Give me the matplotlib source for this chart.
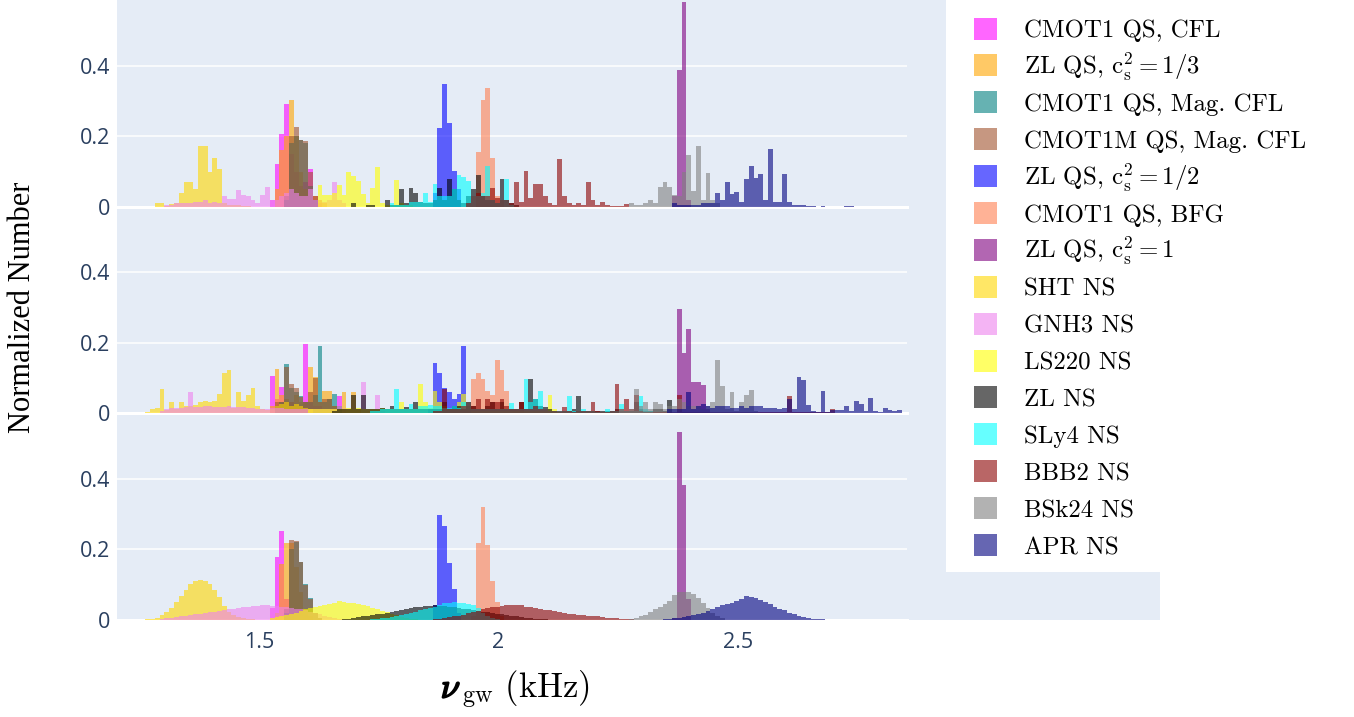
import numpy as np
import matplotlib
matplotlib.use("Agg")
import matplotlib.pyplot as plt
from matplotlib.patches import Rectangle
import matplotlib.patheffects as pe

plt.rcParams["mathtext.fontset"] = "cm"
plt.rcParams["font.family"] = ["Open Sans", "DejaVu Sans"]

W, H = 1354, 717
BIN0 = 1.2025   # left edge of bin 0 (kHz)
BIN_W = 0.01

labels = [
    "CMOT1 QS, CFL",
    r"ZL QS, $\mathrm{c_s^2} = 1/3$",
    "CMOT1 QS, Mag. CFL",
    "CMOT1M QS, Mag. CFL",
    r"ZL QS, $\mathrm{c_s^2} = 1/2$",
    "CMOT1 QS, BFG",
    r"ZL QS, $\mathrm{c_s^2} = 1$",
    "SHT NS", "GNH3 NS", "LS220 NS", "ZL NS", "SLy4 NS",
    "BBB2 NS", "BSk24 NS", "APR NS",
]
colors = ["magenta", "orange", "teal", "sienna", "blue", "coral", "purple",
          "gold", "violet", "yellow", "black", "cyan", "darkred", "grey", "navy"]

# ---- top panel: first bin index of every trace, then bin heights ----
top_first = [32, 33, 35, 35, 66, 75, 116, 8, 10, 42, 49, 57, 73, 107, 116]
top_cmot1_cfl = [0.02, 0.122, 0.207, 0.291, 0.15, 0.10, 0.06, 0.07, 0.107, 0.03, 0.01]
top_zl_13 = [0.05, 0.16, 0.20, 0.303, 0.20, 0.10, 0.05, 0.04, 0.03, 0.02, 0.01]
top_cmot1_mag = [0.02, 0.18, 0.20, 0.19, 0.18, 0.06, 0.02]
top_cmot1m_mag = [0.03, 0.20, 0.226, 0.19, 0.188, 0.10, 0.03]
top_zl_12 = [0.04, 0.225, 0.348, 0.237, 0.103, 0.05]
top_cmot1_bfg = [0.156, 0.303, 0.338, 0.139, 0.03, 0.02]
top_zl_1 = [0.03, 0.389, 0.579, 0.02]
top_sht = [0.012, 0.012, 0.003, 0.008, 0.010, 0.040, 0.071, 0.071, 0.050, 0.174,
           0.174, 0.099, 0.139, 0.107, 0.010, 0.005, 0.005, 0.005, 0.003, 0.003]
top_gnh3 = [0.005, 0.005, 0.010, 0.010, 0.012, 0.010, 0.015, 0.015, 0.020, 0.010,
            0.015, 0.012, 0.031, 0.023, 0.023, 0.048, 0.034, 0.030, 0.020, 0.010,
            0.034, 0.056, 0.020, 0.020, 0.030, 0.040, 0.050, 0.040, 0.030, 0.030,
            0.050, 0.020, 0.020, 0.015, 0.020, 0.071, 0.020, 0.010]
top_ls220 = [0.062, 0.033, 0.033, 0.040, 0.062, 0.033, 0.100, 0.088, 0.075, 0.037,
             0.010, 0.054, 0.113, 0.010, 0.005, 0.005, 0.077, 0.010, 0.005, 0.005]
top_zl_ns = [0.010, 0.0, 0.0, 0.005, 0.005, 0.0, 0.0, 0.020, 0.005, 0.005,
             0.050, 0.010, 0.054, 0.040, 0.015, 0.010, 0.010, 0.020, 0.055, 0.020,
             0.080, 0.050, 0.020, 0.010, 0.030, 0.050, 0.090, 0.030, 0.020, 0.020,
             0.010, 0.078, 0.020, 0.010, 0.005]
top_sly4 = [0.010, 0.005, 0.005, 0.005, 0.015, 0.015, 0.015, 0.040, 0.015, 0.064,
            0.030, 0.030, 0.030, 0.050, 0.090, 0.084, 0.074, 0.030, 0.030, 0.040,
            0.116, 0.020, 0.010, 0.020, 0.079, 0.005]
top_bbb2 = [0.010, 0.030, 0.040, 0.030, 0.030, 0.054, 0.025, 0.020, 0.020, 0.010,
            0.071, 0.015, 0.102, 0.025, 0.066, 0.066, 0.030, 0.010, 0.005, 0.135,
            0.030, 0.010, 0.005, 0.010, 0.005, 0.071, 0.020, 0.005, 0.015, 0.005,
            0.003, 0.003, 0.003, 0.008]
top_bsk24 = [0.010, 0.005, 0.005, 0.010, 0.020, 0.010, 0.058, 0.070, 0.058, 0.033,
             0.030, 0.100, 0.147, 0.045, 0.174, 0.020, 0.096, 0.020, 0.010]
top_apr = [0.010, 0.005, 0.005, 0.005, 0.005, 0.005, 0.010, 0.010, 0.010, 0.040,
           0.020, 0.071, 0.037, 0.043, 0.015, 0.079, 0.115, 0.082, 0.093, 0.020,
           0.163, 0.015, 0.013, 0.094, 0.015, 0.006, 0.006, 0.006, 0.003, 0.003,
           0.0, 0.003, 0.0, 0.0, 0.0, 0.0, 0.003, 0.003]

# ---- middle panel ----
mid_first = [32, 32, 33, 33, 65, 74, 117, 6, 9, 40, 45, 53, 66, 105, 115]
mid_cmot1_cfl = [0.105, 0.040, 0.074, 0.030, 0.030, 0.020, 0.020, 0.195, 0.030, 0.020,
                 0.020, 0.010, 0.010, 0.010, 0.047, 0.010]
mid_zl_13 = [0.020, 0.125, 0.050, 0.040, 0.030, 0.050, 0.030, 0.030, 0.130, 0.102,
             0.030, 0.064, 0.064, 0.020, 0.020, 0.059, 0.010, 0.060, 0.010]
mid_cmot1_mag = [0.020, 0.030, 0.139, 0.070, 0.060, 0.047, 0.030, 0.030, 0.050, 0.191,
                 0.030, 0.040, 0.055, 0.020]
mid_cmot1m_mag = [0.030, 0.030, 0.132, 0.083, 0.072, 0.045, 0.030, 0.060, 0.100, 0.030,
                  0.040, 0.040, 0.020, 0.010]
mid_zl_12 = [0.010, 0.142, 0.113, 0.072, 0.061, 0.041, 0.055, 0.192, 0.020]
mid_cmot1_bfg = [0.097, 0.115, 0.096, 0.064, 0.051, 0.151, 0.123, 0.064, 0.010, 0.010, 0.030]
mid_zl_1 = [0.297, 0.170, 0.238, 0.087, 0.087, 0.080, 0.010]
mid_sht = [0.003, 0.010, 0.015, 0.068, 0.008, 0.032, 0.011, 0.032, 0.019, 0.020,
           0.024, 0.031, 0.035, 0.031, 0.033, 0.055, 0.113, 0.123, 0.015, 0.059,
           0.033, 0.052, 0.070, 0.021, 0.011, 0.008, 0.010, 0.020, 0.025, 0.030,
           0.020, 0.025, 0.020, 0.015, 0.010]
mid_gnh3 = [0.005, 0.010, 0.015, 0.015, 0.015, 0.017, 0.061, 0.017, 0.017, 0.020,
            0.020, 0.017, 0.017, 0.017, 0.020, 0.017, 0.017, 0.017, 0.015, 0.015,
            0.012, 0.010, 0.010, 0.015, 0.015, 0.015, 0.010, 0.010, 0.010, 0.010,
            0.010, 0.010, 0.010, 0.010, 0.010, 0.010, 0.010, 0.020, 0.010, 0.010,
            0.010, 0.010, 0.087, 0.010, 0.010, 0.052, 0.005]
mid_ls220 = [0.010, 0.010, 0.010, 0.010, 0.010, 0.010, 0.010, 0.010, 0.015, 0.010,
             0.015, 0.010, 0.010, 0.010, 0.010, 0.015, 0.010, 0.010, 0.010, 0.031,
             0.010, 0.010, 0.010, 0.083, 0.031, 0.015, 0.064, 0.030, 0.020, 0.010,
             0.010, 0.030, 0.055, 0.020, 0.005, 0.005, 0.005, 0.005, 0.005, 0.005,
             0.005, 0.005, 0.005, 0.005, 0.005, 0.005, 0.005, 0.005, 0.005, 0.005,
             0.052, 0.010]
mid_zl_ns = [0.005, 0.010, 0.010, 0.010, 0.052, 0.010, 0.050, 0.010, 0.010, 0.010,
             0.015, 0.010, 0.020, 0.010, 0.010, 0.017, 0.010, 0.032, 0.010, 0.010,
             0.010, 0.010, 0.010, 0.030, 0.010, 0.020, 0.020, 0.010, 0.030, 0.020,
             0.010, 0.010, 0.020, 0.030, 0.010, 0.030, 0.010, 0.010, 0.010, 0.030,
             0.010, 0.097, 0.040, 0.020, 0.017, 0.010, 0.005, 0.005, 0.005, 0.005,
             0.010, 0.049, 0.005, 0.005, 0.005, 0.005, 0.005, 0.005, 0.005, 0.010,
             0.005, 0.005, 0.005, 0.030, 0.010, 0.005, 0.005, 0.010, 0.010, 0.005,
             0.038]
mid_sly4 = [0.005, 0.005, 0.010, 0.012, 0.012, 0.068, 0.012, 0.012, 0.026, 0.012,
            0.020, 0.020, 0.024, 0.020, 0.020, 0.015, 0.015, 0.020, 0.015, 0.030,
            0.030, 0.010, 0.010, 0.010, 0.010, 0.010, 0.010, 0.010, 0.010, 0.028,
            0.010, 0.010, 0.097, 0.030, 0.040, 0.064, 0.010, 0.005, 0.005, 0.003,
            0.005, 0.049, 0.005, 0.005, 0.010, 0.005, 0.005, 0.003, 0.003, 0.012,
            0.005, 0.005, 0.026, 0.005, 0.005, 0.005, 0.049, 0.010, 0.005]
mid_bbb2 = [0.005, 0.005, 0.068, 0.010, 0.010, 0.010, 0.020, 0.030, 0.020, 0.040,
            0.010, 0.040, 0.030, 0.030, 0.040, 0.020, 0.010, 0.010, 0.030, 0.010,
            0.010, 0.020, 0.010, 0.010, 0.005, 0.005, 0.003, 0.017, 0.005, 0.003,
            0.005, 0.005, 0.005, 0.032, 0.005, 0.003, 0.003, 0.005, 0.082, 0.010,
            0.039, 0.010, 0.050, 0.005, 0.003, 0.003, 0.003, 0.003, 0.003, 0.003,
            0.003, 0.050, 0.003, 0.003, 0.003, 0.003, 0.003, 0.003, 0.003, 0.003,
            0.003, 0.003, 0.003, 0.003, 0.003, 0.003, 0.003, 0.003, 0.003, 0.003,
            0.003, 0.003, 0.003, 0.003, 0.049, 0.002, 0.002, 0.002, 0.002, 0.002,
            0.002, 0.002, 0.002, 0.010]
mid_bsk24 = [0.010, 0.005, 0.010, 0.068, 0.020, 0.032, 0.010, 0.032, 0.025, 0.010,
             0.020, 0.020, 0.040, 0.030, 0.020, 0.020, 0.020, 0.010, 0.020, 0.031,
             0.152, 0.078, 0.010, 0.059, 0.005, 0.032, 0.051, 0.066, 0.005]
mid_apr = [0.010, 0.010, 0.010, 0.010, 0.060, 0.010, 0.020, 0.025, 0.020, 0.015,
           0.020, 0.020, 0.020, 0.015, 0.013, 0.020, 0.015, 0.020, 0.020, 0.020,
           0.015, 0.015, 0.015, 0.010, 0.015, 0.040, 0.010, 0.102, 0.093, 0.023,
           0.005, 0.003, 0.064, 0.003, 0.008, 0.008, 0.008, 0.020, 0.005, 0.033,
           0.026, 0.005, 0.043, 0.005, 0.002, 0.015, 0.008, 0.006, 0.008]

# ---- bottom panel ----
bot_first = [32, 33, 35, 35, 66, 74, 116, 5, 9, 32, 47, 53, 66, 107, 114]
bot_cmot1_cfl = [0.035, 0.177, 0.252, 0.060, 0.010]
bot_zl_13 = [0.020, 0.158, 0.217, 0.219, 0.150, 0.080, 0.030, 0.010]
bot_cmot1_mag = [0.020, 0.200, 0.220, 0.165, 0.101, 0.063, 0.020, 0.005]
bot_cmot1m_mag = [0.030, 0.226, 0.224, 0.163, 0.100, 0.060, 0.020, 0.005]
bot_zl_12 = [0.042, 0.297, 0.266, 0.160, 0.089, 0.020]
bot_cmot1_bfg = [0.010, 0.217, 0.320, 0.213, 0.109, 0.051, 0.010]
bot_zl_1 = [0.005, 0.533, 0.383, 0.060]
bot_sht = [0.001, 0.002, 0.003, 0.007, 0.013, 0.024, 0.035, 0.051, 0.068, 0.084,
           0.101, 0.111, 0.113, 0.111, 0.103, 0.084, 0.066, 0.040, 0.024, 0.014,
           0.009, 0.005, 0.003, 0.002]
bot_gnh3 = [0.004, 0.006, 0.007, 0.009, 0.011, 0.012, 0.014, 0.016, 0.018, 0.020,
            0.022, 0.024, 0.026, 0.028, 0.030, 0.032, 0.034, 0.037, 0.038, 0.040,
            0.041, 0.042, 0.042, 0.041, 0.040, 0.038, 0.036, 0.034, 0.032, 0.030,
            0.027, 0.024, 0.020, 0.016, 0.012, 0.008, 0.005, 0.003]
bot_ls220 = [0.005, 0.008, 0.010, 0.013, 0.016, 0.020, 0.025, 0.030, 0.034, 0.037,
             0.040, 0.043, 0.046, 0.048, 0.054, 0.052, 0.048, 0.048, 0.046, 0.042,
             0.040, 0.035, 0.031, 0.026, 0.022, 0.017, 0.013, 0.009, 0.006, 0.004,
             0.002]
bot_zl_ns = [0.002, 0.004, 0.006, 0.008, 0.010, 0.012, 0.014, 0.016, 0.018, 0.020,
             0.022, 0.025, 0.028, 0.031, 0.034, 0.036, 0.038, 0.040, 0.041, 0.042,
             0.041, 0.040, 0.038, 0.036, 0.034, 0.032, 0.030, 0.028, 0.026, 0.024,
             0.022, 0.020, 0.018, 0.016, 0.014, 0.012, 0.010, 0.008, 0.006, 0.005,
             0.004, 0.003, 0.002]
bot_sly4 = [0.002, 0.003, 0.005, 0.007, 0.009, 0.011, 0.014, 0.017, 0.021, 0.024,
            0.027, 0.030, 0.034, 0.038, 0.043, 0.047, 0.049, 0.050, 0.049, 0.047,
            0.046, 0.043, 0.035, 0.020, 0.010, 0.005, 0.002]
bot_bbb2 = [0.002, 0.004, 0.006, 0.008, 0.010, 0.012, 0.015, 0.019, 0.023, 0.026,
            0.030, 0.033, 0.036, 0.038, 0.040, 0.042, 0.043, 0.043, 0.042, 0.038,
            0.036, 0.033, 0.031, 0.029, 0.027, 0.025, 0.022, 0.020, 0.018, 0.016,
            0.014, 0.013, 0.012, 0.011, 0.010, 0.008, 0.007, 0.006, 0.005, 0.004,
            0.003, 0.002, 0.001]
bot_bsk24 = [0.004, 0.006, 0.010, 0.015, 0.022, 0.030, 0.038, 0.046, 0.054, 0.071,
             0.080, 0.080, 0.078, 0.073, 0.063, 0.049, 0.035, 0.021, 0.011, 0.005]
bot_apr = [0.002, 0.004, 0.006, 0.007, 0.009, 0.011, 0.014, 0.017, 0.020, 0.025,
           0.030, 0.036, 0.042, 0.046, 0.049, 0.055, 0.059, 0.068, 0.066, 0.061,
           0.056, 0.050, 0.044, 0.038, 0.032, 0.027, 0.021, 0.016, 0.012, 0.009,
           0.006, 0.004, 0.003, 0.002, 0.001, 0.001, 0.001, 0.001]

panels = [
    (top_first, [top_cmot1_cfl, top_zl_13, top_cmot1_mag, top_cmot1m_mag, top_zl_12,
                 top_cmot1_bfg, top_zl_1, top_sht, top_gnh3, top_ls220, top_zl_ns,
                 top_sly4, top_bbb2, top_bsk24, top_apr]),
    (mid_first, [mid_cmot1_cfl, mid_zl_13, mid_cmot1_mag, mid_cmot1m_mag, mid_zl_12,
                 mid_cmot1_bfg, mid_zl_1, mid_sht, mid_gnh3, mid_ls220, mid_zl_ns,
                 mid_sly4, mid_bbb2, mid_bsk24, mid_apr]),
    (bot_first, [bot_cmot1_cfl, bot_zl_13, bot_cmot1_mag, bot_cmot1m_mag, bot_zl_12,
                 bot_cmot1_bfg, bot_zl_1, bot_sht, bot_gnh3, bot_ls220, bot_zl_ns,
                 bot_sly4, bot_bbb2, bot_bsk24, bot_apr]),
]


def fx(px):
    return px / W


def fy(px):
    return 1 - px / H


fig = plt.figure(figsize=(W / 100, H / 100), dpi=100)

# plot background runs under the legend column too
fig.add_artist(Rectangle((fx(117), fy(620)), fx(1160) - fx(117), 620 / H,
                         facecolor="#E5ECF6", edgecolor="none", zorder=-2))

tops = [0, 207, 413]
bottoms = [207, 413, 620]
for i, (first, series) in enumerate(panels):
    ax = fig.add_axes([fx(117), fy(bottoms[i]), fx(907) - fx(117),
                       (bottoms[i] - tops[i]) / H])
    ax.set_facecolor("none")
    for k0, vals, col in zip(first, series, colors):
        edges = BIN0 + BIN_W * (k0 + np.arange(len(vals) + 1))
        ax.stairs(vals, edges, fill=True, color=col, alpha=0.6, linewidth=0, zorder=2)
    ax.set_xlim(1.2035, 2.853)
    ax.set_ylim(0, 0.586)
    ax.set_yticks([0, 0.2, 0.4])
    ax.set_yticklabels(["0", "0.2", "0.4"])
    ax.set_axisbelow(True)
    ax.grid(axis="y", color="white", linewidth=1.1)
    ax.axhline(0, color="white", linewidth=2.2, zorder=1, clip_on=False)
    for s in ax.spines.values():
        s.set_visible(False)
    ax.tick_params(length=0, labelsize=15.5, labelcolor="#2a3f5f", pad=5)
    if i < 2:
        ax.set_xticks([])
    else:
        ax.set_xticks([1.5, 2, 2.5])
        ax.set_xticklabels(["1.5", "2", "2.5"])
        ax.tick_params(axis="x", pad=9)

# legend column
fig.add_artist(Rectangle((fx(946), fy(572)), fx(1160) - fx(946), 572 / H,
                         facecolor="white", edgecolor="none", zorder=1))
for i, (lab, col) in enumerate(zip(labels, colors)):
    yc = 28.5 + 36.9 * i
    fig.add_artist(Rectangle((fx(974), fy(yc + 11)), 23 / W, 22 / H,
                             facecolor=col, alpha=0.6, edgecolor="none", zorder=3))
    fig.text(fx(1024), fy(yc + 9), lab, family="cmr10", fontsize=17.9,
             va="baseline", ha="left", color="black", zorder=3)

# axis titles
fig.text(fx(23), fy(307), "Normalized Number", rotation=90, family="Liberation Serif",
         fontsize=22, ha="center", va="center", color="black")
fig.text(fx(461), fy(698), r"$\nu$", fontsize=25, ha="right", va="baseline",
         path_effects=[pe.withStroke(linewidth=1.3, foreground="black")])
fig.text(fx(461), fy(698), r"$_{\mathrm{gw}}\ (\mathrm{kHz})$", fontsize=25,
         ha="left", va="baseline")

fig.savefig("out.png", dpi=100)
